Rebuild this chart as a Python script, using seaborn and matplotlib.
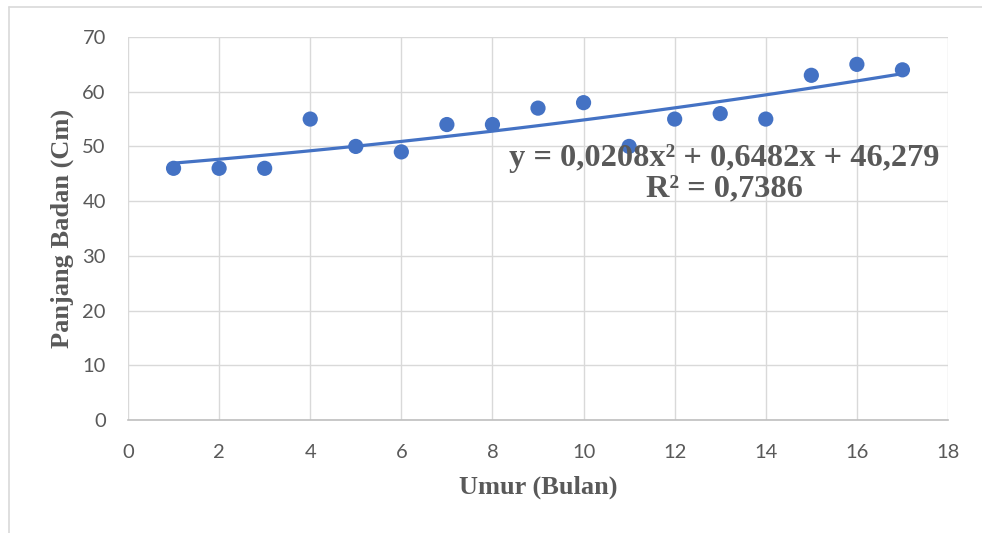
import matplotlib
matplotlib.use("Agg")
import matplotlib.pyplot as plt
import seaborn as sns
import numpy as np
import pandas as pd
from matplotlib.lines import Line2D

umur = [1, 2, 3, 4, 5, 6, 7, 8, 9, 10, 11, 12, 13, 14, 15, 16, 17]
panjang = [46, 46, 46, 55, 50, 49, 54, 54, 57, 58, 50, 55, 56, 55, 63, 65, 64]
x_ticks = [0, 2, 4, 6, 8, 10, 12, 14, 16, 18]
y_ticks = [0, 10, 20, 30, 40, 50, 60, 70]
eq_line1 = "y = 0,0208x² + 0,6482x + 46,279"
eq_line2 = "R² = 0,7386"
x_label = "Umur (Bulan)"
y_label = "Panjang Badan (Cm)"

df = pd.DataFrame({"umur": umur, "panjang": panjang})

sns.set_style("white")
plt.rcParams['font.family'] = ['Lato', 'DejaVu Sans']

fig = plt.figure(figsize=(9.82, 5.33), dpi=100)
ax = fig.add_axes([128/982, 1-420/533, (948-128)/982, (420-37)/533])

blue = "#4472C4"
sns.regplot(data=df, x="umur", y="panjang", order=2, ci=None, ax=ax,
            scatter_kws=dict(s=120, color=blue, edgecolor="none", alpha=1, zorder=4),
            line_kws=dict(color=blue, lw=2.3, zorder=3))

ax.set_xlim(0, 18)
ax.set_ylim(0, 70)
ax.set_xticks(x_ticks)
ax.set_yticks(y_ticks)
ax.grid(True, color="#d9d9d9", lw=1.0)
ax.set_axisbelow(True)
for s in ["top", "right", "left"]:
    ax.spines[s].set_visible(False)
ax.spines["bottom"].set_color("#bfbfbf")
ax.spines["bottom"].set_linewidth(1.2)

ax.tick_params(axis="both", length=0, labelsize=14.5, labelcolor="#595959")
ax.tick_params(axis="x", pad=17)
ax.tick_params(axis="y", pad=16)

serif = ['Liberation Serif', 'DejaVu Serif']
ax.set_xlabel(x_label, family=serif, fontsize=19, fontweight="bold", color="#595959", labelpad=11)
ax.set_ylabel(y_label, family=serif, fontsize=19, fontweight="bold", color="#595959", labelpad=6)

ax.text(0.727, 0.684, eq_line1, transform=ax.transAxes, ha="center", va="center",
        family=serif, fontsize=23.3, fontweight="bold", color="#595959", zorder=5)
ax.text(0.727, 0.603, eq_line2, transform=ax.transAxes, ha="center", va="center",
        family=serif, fontsize=23.3, fontweight="bold", color="#595959", zorder=5)

# outer chart frame
fig.add_artist(Line2D([9/982, 9/982], [0, 1-7/533], color="#d9d9d9", lw=1.2, transform=fig.transFigure))
fig.add_artist(Line2D([9/982, 1], [1-7/533, 1-7/533], color="#d9d9d9", lw=1.2, transform=fig.transFigure))

fig.savefig("out.png", dpi=100)
